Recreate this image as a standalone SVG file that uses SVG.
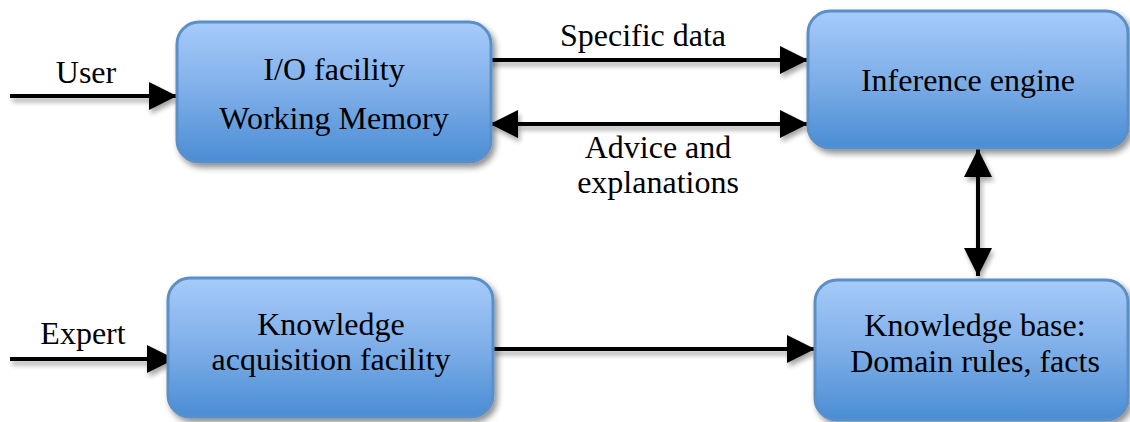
<svg xmlns="http://www.w3.org/2000/svg" width="1130" height="422" viewBox="0 0 1130 422">
<defs>
<linearGradient id="g" x1="0" y1="0" x2="0" y2="1">
<stop offset="0" stop-color="#a7cbfa"/>
<stop offset="0.5" stop-color="#7eaee8"/>
<stop offset="1" stop-color="#4a8dd4"/>
</linearGradient>
<filter id="sh" x="-10%" y="-10%" width="125%" height="130%">
<feGaussianBlur in="SourceAlpha" stdDeviation="3"/>
<feOffset dx="3" dy="4" result="b"/>
<feComponentTransfer><feFuncA type="linear" slope="0.45"/></feComponentTransfer>
<feMerge><feMergeNode/><feMergeNode in="SourceGraphic"/></feMerge>
</filter>
<filter id="lsh" filterUnits="userSpaceOnUse" x="0" y="0" width="1130" height="422">
<feGaussianBlur in="SourceAlpha" stdDeviation="2.5"/>
<feOffset dx="2" dy="4" result="b"/>
<feComponentTransfer><feFuncA type="linear" slope="0.35"/></feComponentTransfer>
<feMerge><feMergeNode/><feMergeNode in="SourceGraphic"/></feMerge>
</filter>
<marker id="ah" viewBox="0 0 10 10" refX="10" refY="5" markerWidth="7" markerHeight="7" orient="auto-start-reverse" markerUnits="strokeWidth">
<path d="M0,0 L10,5 L0,10 z" fill="#000"/>
</marker>
</defs>
<style>
.box{fill:url(#g);stroke:#5a8fc8;stroke-width:3;filter:url(#sh)}
.t{font-family:"Liberation Serif","Times New Roman",serif;font-size:32px;fill:#000;text-anchor:middle}
.c{stroke:#000;stroke-width:4;fill:none}
</style>
<g id="connectors" filter="url(#lsh)">
<line class="c" x1="10" y1="96" x2="177" y2="96" marker-end="url(#ah)"/>
<line class="c" x1="487" y1="60" x2="808" y2="60" marker-end="url(#ah)"/>
<line class="c" x1="490" y1="124" x2="808" y2="124" marker-start="url(#ah)" marker-end="url(#ah)"/>
<line class="c" x1="978" y1="149" x2="978" y2="276" marker-start="url(#ah)" marker-end="url(#ah)"/>
<line class="c" x1="10" y1="359" x2="175" y2="359" marker-end="url(#ah)"/>
<line class="c" x1="493" y1="349" x2="815" y2="349" marker-end="url(#ah)"/>
</g>
<g id="labels">
<text class="t" x="86" y="83">User</text>
<text class="t" x="643" y="46">Specific data</text>
<text class="t" x="658" y="158">Advice and</text>
<text class="t" x="658" y="193">explanations</text>
<text class="t" x="83" y="344">Expert</text>
</g>
<g id="io">
<rect class="box" x="177" y="22" width="314" height="140" rx="22"/>
<text class="t" x="334" y="80">I/O facility</text>
<text class="t" x="334" y="129">Working Memory</text>
</g>
<g id="inference">
<rect class="box" x="808" y="11" width="320" height="137" rx="22"/>
<text class="t" x="968" y="91">Inference engine</text>
</g>
<g id="acquisition">
<rect class="box" x="168" y="278" width="325" height="139" rx="22"/>
<text class="t" x="331" y="335">Knowledge</text>
<text class="t" x="331" y="370">acquisition facility</text>
</g>
<g id="kb">
<rect class="box" x="815" y="280" width="313" height="140" rx="22"/>
<text class="t" x="975" y="336">Knowledge base:</text>
<text class="t" x="975" y="372">Domain rules, facts</text>
</g>
</svg>
